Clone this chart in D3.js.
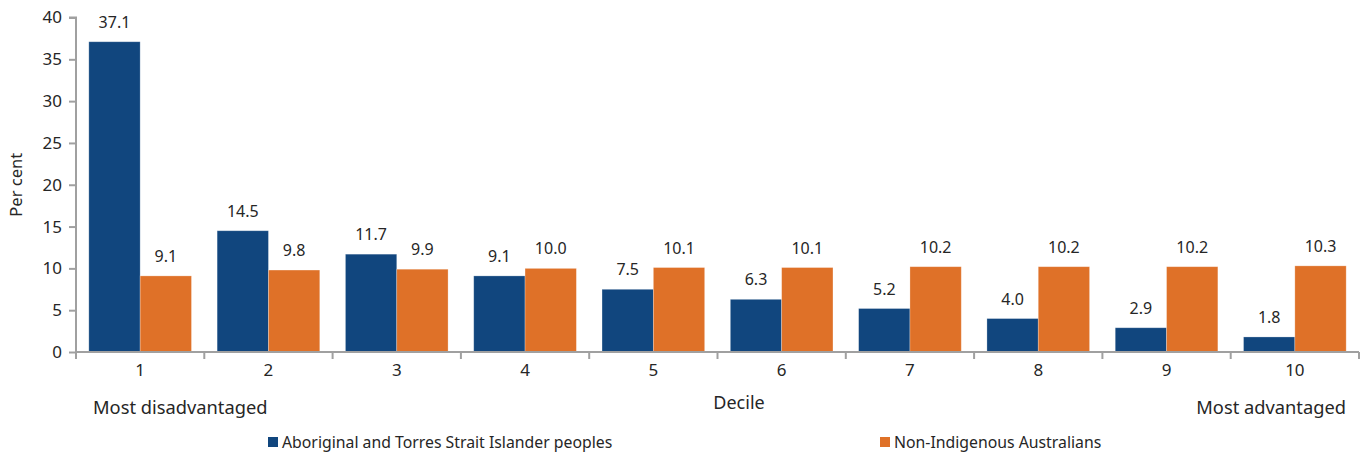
<!DOCTYPE html>
<html><head><meta charset="utf-8">
<script src="https://cdn.jsdelivr.net/npm/d3@7"></script>
<style>body{margin:0;background:#fff}svg{display:block}text{font-family:"Noto Sans",sans-serif;fill:#262626}</style>
</head><body><svg id="c" width="1367" height="457"></svg>
<script>
const categories = ["1","2","3","4","5","6","7","8","9","10"];
const seriesNames = ["Aboriginal and Torres Strait Islander peoples","Non-Indigenous Australians"];
const indigenous = [37.1,14.5,11.7,9.1,7.5,6.3,5.2,4.0,2.9,1.8];
const nonIndigenous = [9.1,9.8,9.9,10.0,10.1,10.1,10.2,10.2,10.2,10.3];
const yTicks = [0,5,10,15,20,25,30,35,40];
const colors = ["#11467E","#DF7128"];

const svg = d3.select("#c");
const L=76,R=1359,T=17.5,B=352;
const x = d3.scaleBand().domain(categories).range([L,R]).paddingInner(0.2).paddingOuter(0.1);
const xc = d3.scaleBand().domain(categories).range([L,R]);
const x1 = d3.scaleBand().domain([0,1]).range([0,x.bandwidth()]);
const y = d3.scaleLinear().domain([0,40]).range([B,T]);
const series=[indigenous,nonIndigenous];
const FF='"Noto Sans",sans-serif';

series.forEach((vals,si)=>{
  svg.append("g").selectAll("rect").data(vals).join("rect")
    .attr("x",(d,i)=>x(categories[i])+x1(si))
    .attr("width",x1.bandwidth())
    .attr("y",d=>y(d)).attr("height",d=>B-y(d))
    .attr("fill",colors[si]).attr("stroke","#ffffff").attr("stroke-opacity",0.35).attr("stroke-width",0.75);
  svg.append("g").selectAll("text").data(vals).join("text")
    .attr("x",(d,i)=>x(categories[i])+x1(si)+x1.bandwidth()/2)
    .attr("y",d=>y(d)-14)
    .attr("text-anchor","middle").attr("font-size",16)
    .text(d=>d.toFixed(1));
});

const ya = svg.append("g").attr("transform",`translate(${L},0)`)
  .call(d3.axisLeft(y).tickValues(yTicks).tickSize(7).tickPadding(7));
ya.select(".domain").attr("stroke","#a0a0a0").attr("stroke-width",2).attr("d",`M-7,${T}H0V${B}`);
ya.selectAll(".tick line").attr("stroke","#a0a0a0").attr("stroke-width",2);
ya.selectAll(".tick text").attr("font-size",17).style("font-family",FF).attr("fill","#262626");

const xa = svg.append("g").attr("transform",`translate(0,${B})`)
  .call(d3.axisBottom(xc).tickSize(0).tickPadding(12));
xa.select(".domain").attr("stroke","#a0a0a0").attr("stroke-width",2).attr("d",`M${L},0H${R}`);
xa.selectAll(".tick text").attr("font-size",17).style("font-family",FF).attr("fill","#262626");
svg.append("g").selectAll("line").data(categories.concat(["end"])).join("line")
  .attr("x1",(d,i)=>i<categories.length?xc(d):R).attr("x2",(d,i)=>i<categories.length?xc(d):R)
  .attr("y1",B).attr("y2",B+7).attr("stroke","#a0a0a0").attr("stroke-width",2);

svg.append("text").attr("transform",`translate(22,${(T+B)/2}) rotate(-90)`)
  .attr("text-anchor","middle").attr("font-size",16.5).text("Per cent");
svg.append("text").attr("x",739).attr("y",408.5).attr("text-anchor","middle").attr("font-size",18).text("Decile");
svg.append("text").attr("x",93).attr("y",413.5).attr("font-size",18.3).text("Most disadvantaged");
svg.append("text").attr("x",1346).attr("y",413.5).attr("text-anchor","end").attr("font-size",18.3).text("Most advantaged");

const legX=[268,880];
seriesNames.forEach((n,i)=>{
  svg.append("rect").attr("x",legX[i]).attr("y",437).attr("width",10).attr("height",10).attr("fill",colors[i]);
  svg.append("text").attr("x",legX[i]+14).attr("y",447.5).attr("font-size",15.8).text(n);
});
</script></body></html>
